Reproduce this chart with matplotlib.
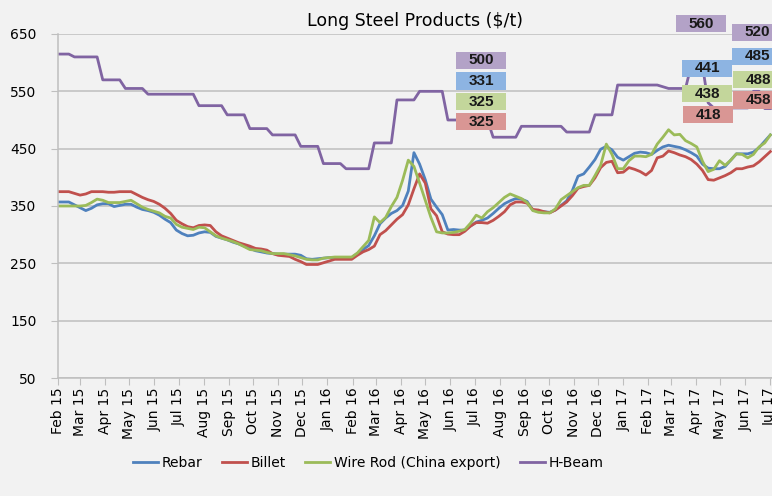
import matplotlib
matplotlib.use('Agg')
import matplotlib.pyplot as plt
import matplotlib.dates as mdates
from matplotlib.patches import Rectangle
import pandas as pd

# weekly prices, Feb 2015 - Jul 2017 ($/t)
start = '2015-02-01'
rebar = [357, 357, 357, 352, 347, 342, 346, 352, 354, 354,
         349, 351, 353, 353, 348, 344, 342, 339, 334, 327,
         321, 308, 302, 298, 299, 303, 305, 304, 297, 294,
         291, 287, 284, 280, 276, 272, 270, 268, 267, 266,
         266, 266, 266, 264, 258, 257, 258, 259, 260, 260,
         260, 260, 260, 267, 274, 281, 298, 319, 329, 337,
         342, 351, 376, 443, 423, 396, 362, 348, 335, 308,
         309, 308, 308, 315, 322, 325, 329, 337, 346, 354,
         359, 363, 362, 358, 343, 341, 340, 339, 343, 351,
         359, 377, 402, 406, 418, 431, 449, 454, 448, 435,
         430, 436, 442, 444, 443, 440, 447, 453, 456, 454,
         452, 448, 443, 437, 423, 416, 415, 415, 419, 430,
         441, 441, 441, 444, 452, 463, 474]
billet = [375, 375, 375, 372, 369, 371, 375, 375, 375, 374,
          374, 375, 375, 375, 370, 365, 361, 358, 353, 346,
          337, 325, 319, 314, 312, 316, 317, 316, 305, 298,
          294, 290, 286, 283, 280, 276, 275, 273, 267, 264,
          263, 262, 257, 253, 248, 248, 248, 251, 254, 257,
          257, 257, 257, 264, 270, 274, 280, 300, 307, 317,
          327, 335, 352, 380, 406, 390, 345, 333, 305, 301,
          300, 300, 306, 315, 321, 321, 320, 325, 332, 340,
          352, 357, 357, 355, 344, 343, 340, 338, 343, 350,
          357, 368, 381, 384, 386, 399, 417, 426, 428, 408,
          409, 417, 414, 410, 404, 412, 434, 437, 446, 443,
          439, 436, 431, 423, 412, 396, 395, 399, 403, 408,
          415, 415, 418, 420, 427, 436, 445]
wire_rod = [350, 350, 350, 350, 350, 351, 356, 362, 360, 356,
            356, 356, 358, 360, 354, 348, 344, 341, 338, 332,
            329, 318, 313, 311, 309, 313, 312, 305, 298, 294,
            291, 288, 284, 279, 274, 273, 272, 269, 267, 267,
            267, 265, 263, 260, 257, 256, 256, 259, 260, 261,
            261, 261, 261, 268, 279, 290, 331, 321, 330, 349,
            365, 395, 430, 419, 390, 360, 330, 305, 303, 303,
            304, 306, 309, 320, 334, 329, 340, 347, 356, 365,
            371, 367, 363, 356, 342, 339, 338, 338, 345, 361,
            368, 375, 382, 386, 386, 403, 421, 458, 440, 415,
            415, 429, 437, 437, 436, 440, 458, 470, 483, 474,
            475, 464, 459, 453, 428, 410, 414, 429, 421, 430,
            441, 440, 434, 440, 453, 460, 474]
h_beam = [615, 615, 615, 610, 610, 610, 610, 610, 570, 570,
          570, 570, 555, 555, 555, 555, 545, 545, 545, 545,
          545, 545, 545, 545, 545, 525, 525, 525, 525, 525,
          509, 509, 509, 509, 485, 485, 485, 485, 474, 474,
          474, 474, 474, 454, 454, 454, 454, 424, 424, 424,
          424, 415, 415, 415, 415, 415, 460, 460, 460, 460,
          535, 535, 535, 535, 550, 550, 550, 550, 550, 500,
          500, 500, 500, 500, 500, 500, 500, 470, 470, 470,
          470, 470, 489, 489, 489, 489, 489, 489, 489, 489,
          479, 479, 479, 479, 479, 509, 509, 509, 509, 561,
          561, 561, 561, 561, 561, 561, 561, 558, 555, 555,
          555, 555, 595, 595, 595, 530, 521, 521, 521, 521,
          521, 521, 521, 550, 550, 520, 520]

series_names = ['Rebar', 'Billet', 'Wire Rod (China export)', 'H-Beam']
line_colors = ['#4F81BD', '#C0504D', '#9BBB59', '#8064A2']
box_colors = ['#8DB4E2', '#D99694', '#C3D69B', '#B3A2C7']

# value call-out boxes: text, centre date, centre y, colour index
label_text = ['500', '331', '325', '325',
              '560', '441', '438', '418',
              '520', '485', '488', '458']
label_date = ['2016-07-09', '2016-07-09', '2016-07-09', '2016-07-09',
              '2017-04-07', '2017-04-15', '2017-04-15', '2017-04-16',
              '2017-06-16', '2017-06-16', '2017-06-17', '2017-06-17']
label_y = [604, 568, 532, 497,
           668, 590, 546, 509,
           653, 611, 570, 535]
label_kind = [3, 0, 2, 1,
              3, 0, 2, 1,
              3, 0, 2, 1]

dates = pd.date_range(start, periods=len(rebar), freq='7D')
month_ticks = pd.date_range('2015-02-01', '2017-07-01', freq='MS')

plt.rcParams['font.family'] = ['DejaVu Sans']
bg = '#F2F2F2'
grid_c = '#BFBFBF'

fig = plt.figure(figsize=(7.72, 4.96), dpi=100, facecolor=bg)
ax = fig.add_axes([57.5 / 772, 1 - 378 / 496, 1 - 57.5 / 772, (378 - 34) / 496])
ax.set_facecolor(bg)

for vals, name, c in zip([rebar, billet, wire_rod, h_beam], series_names, line_colors):
    ax.plot(dates, vals, color=c, lw=2.0, label=name, solid_joinstyle='round')

ax.set_ylim(50, 650)
ax.set_yticks(range(50, 651, 100))
ax.set_xlim(pd.Timestamp('2015-02-01'), pd.Timestamp('2015-02-01') + pd.Timedelta(days=884))
ax.set_xticks(month_ticks)
ax.xaxis.set_major_formatter(mdates.DateFormatter('%b %y'))
ax.grid(axis='y', color=grid_c, lw=1.1)
ax.set_axisbelow(True)
for s in ['top', 'right']:
    ax.spines[s].set_visible(False)
for s in ['left', 'bottom']:
    ax.spines[s].set_color(grid_c)
    ax.spines[s].set_linewidth(1.1)
ax.tick_params(axis='x', length=5, color=grid_c, labelrotation=90, labelsize=10, pad=2)
ax.tick_params(axis='y', length=5, color=grid_c, labelsize=10, pad=10)
ax.set_title(r'Long Steel Products (\$/t)', fontsize=12.5, pad=6)

# call-out boxes
box_w = 62    # days
box_h = 30    # $/t
for t, d, y, k in zip(label_text, label_date, label_y, label_kind):
    x = mdates.date2num(pd.Timestamp(d))
    ax.add_patch(Rectangle((x - box_w / 2, y - box_h / 2), box_w, box_h,
                           facecolor=box_colors[k], edgecolor='none',
                           clip_on=False, zorder=5))
    ax.text(x, y, t, ha='center', va='center', fontsize=11, fontweight='bold',
            family='Liberation Sans', color='#1a1a1a', clip_on=False, zorder=6)

fig.legend(loc='center', bbox_to_anchor=(0.477, 0.067), ncol=4, frameon=False,
           fontsize=10, handlelength=1.8, handletextpad=0.25, columnspacing=1.4)

fig.savefig('out.png', dpi=100, facecolor=bg)
